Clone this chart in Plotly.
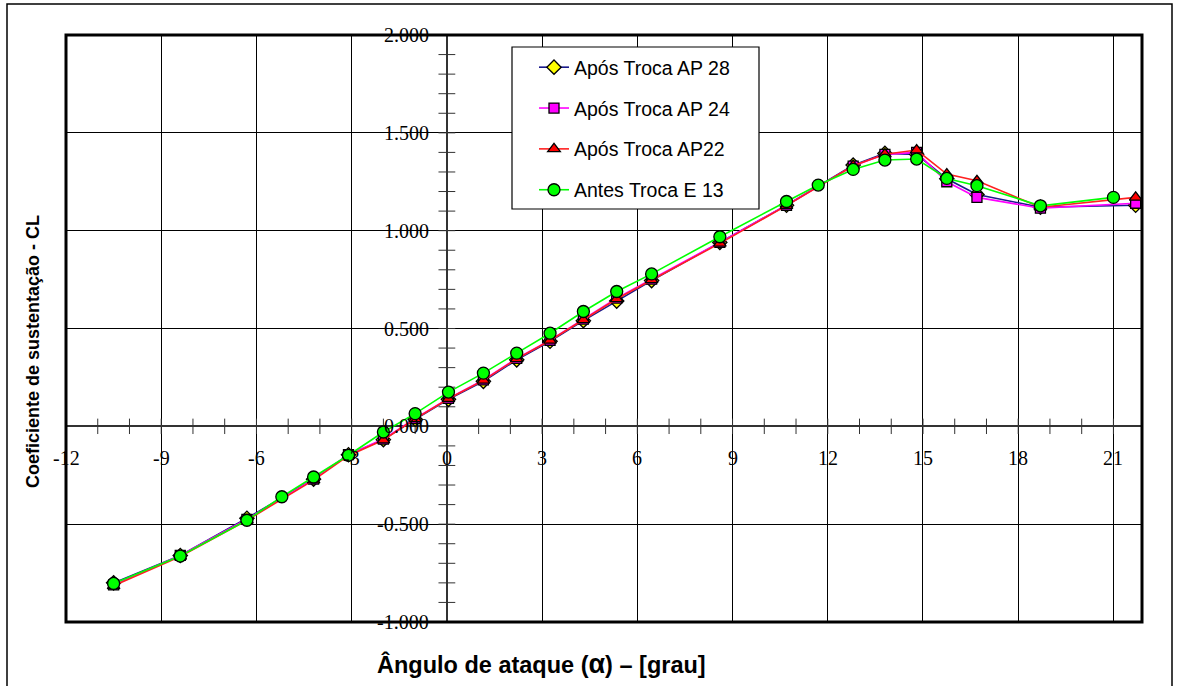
import plotly.graph_objects as go
import numpy as np

# ---------------- data ----------------
alpha_ap = [-10.5, -8.4, -6.3, -4.2, -3.1, -2.0, -1.0, 0.05, 1.15, 2.2, 3.25, 4.3, 5.35, 6.45,
            8.6, 10.7, 12.8, 13.8, 14.8, 15.75, 16.7, 18.7, 21.7]
cl_ap28 = [-0.80, -0.66, -0.47, -0.27, -0.145, -0.068, 0.036, 0.138, 0.23, 0.34, 0.435, 0.54, 0.64, 0.745,
           0.94, 1.13, 1.335, 1.395, 1.39, 1.265, 1.185, 1.12, 1.13]
cl_ap24 = [-0.81, -0.66, -0.475, -0.27, -0.145, -0.065, 0.04, 0.143, 0.237, 0.347, 0.44, 0.548, 0.655, 0.752,
           0.94, 1.13, 1.33, 1.39, 1.40, 1.25, 1.17, 1.115, 1.14]
cl_ap22 = [-0.815, -0.665, -0.48, -0.275, -0.15, -0.07, 0.038, 0.141, 0.235, 0.345, 0.439, 0.544, 0.651, 0.748,
           0.935, 1.128, 1.332, 1.391, 1.412, 1.289, 1.255, 1.12, 1.17]
alpha_e13 = [-10.5, -8.4, -6.3, -5.2, -4.2, -3.1, -2.0, -1.0, 0.05, 1.15, 2.2, 3.25, 4.3, 5.35, 6.45,
             8.6, 10.7, 11.7, 12.8, 13.8, 14.8, 15.75, 16.7, 18.7, 21.0]
cl_e13 = [-0.803, -0.663, -0.48, -0.36, -0.259, -0.148, -0.029, 0.065, 0.175, 0.272, 0.374, 0.476, 0.587, 0.689,
          0.779, 0.969, 1.149, 1.233, 1.313, 1.361, 1.366, 1.267, 1.23, 1.127, 1.17]

series_names = ["Após Troca AP 28", "Após Troca AP 24", "Após Troca AP22", "Antes Troca E 13"]

x_ticks = [-12, -9, -6, -3, 0, 3, 6, 9, 12, 15, 18, 21]
y_ticks = [-1.0, -0.5, 0.0, 0.5, 1.0, 1.5, 2.0]
x_minor = list(range(-11, 22))
y_minor = [round(v, 1) for v in np.arange(-1.0, 2.0001, 0.1)]

x_range = [-12, 21.9]
y_range = [-1.0, 2.0]

TXT = "Liberation Sans, Arial, sans-serif"
SERIF = "Liberation Serif, Times New Roman, serif"

fig = go.Figure()

# cross-shaped minor ticks along the zero lines
fig.add_trace(go.Scatter(x=x_minor, y=[0] * len(x_minor), mode="markers",
                         marker=dict(symbol="line-ns-open", size=11, color="#333",
                                     line=dict(color="#333", width=1)),
                         showlegend=False, hoverinfo="skip"))
fig.add_trace(go.Scatter(x=[0] * len(y_minor), y=y_minor, mode="markers",
                         marker=dict(symbol="line-ew-open", size=12, color="#333",
                                     line=dict(color="#333", width=1)),
                         showlegend=False, hoverinfo="skip"))

styles = [
    (alpha_ap, cl_ap28, "#1a1a8c", "diamond", "#ffff00", 11),
    (alpha_ap, cl_ap24, "#ff00ff", "square", "#ff00ff", 10),
    (alpha_ap, cl_ap22, "#ff2020", "triangle-up", "#ff0000", 11),
    (alpha_e13, cl_e13, "#00ff00", "circle", "#00ff00", 12),
]
for i, (xs, ys, lc, sym, fc, sz) in enumerate(styles):
    fig.add_trace(go.Scatter(
        x=xs, y=ys, mode="lines+markers", name=series_names[i], legendgroup=f"g{i}",
        line=dict(color=lc, width=1.6),
        marker=dict(symbol=sym, size=sz, color=fc, line=dict(color="black", width=1.3)),
    ))

# tick labels placed on the zero lines
for v in x_ticks:
    fig.add_annotation(x=v, y=0, xref="x", yref="y", text=f"{v}", showarrow=False,
                       yshift=-32, xanchor="center", yanchor="middle",
                       font=dict(family=SERIF, size=20, color="black"))
for v in y_ticks:
    fig.add_annotation(x=0, y=v, xref="x", yref="y", text=f"{v:.3f}", showarrow=False,
                       xshift=-16, xanchor="right", yanchor="middle",
                       font=dict(family=SERIF, size=20, color="black"))

# axis titles
fig.add_annotation(x=(541 - 66) / 1076, y=(622 - 664) / 587, xref="paper", yref="paper",
                   text="<b>Ângulo de ataque (<span style='font-size:27px'>α</span>) – [grau]</b>",
                   showarrow=False, xanchor="center", yanchor="middle",
                   font=dict(family=TXT, size=23.5, color="black"))
fig.add_annotation(x=(33 - 66) / 1076, y=(622 - 352) / 587, xref="paper", yref="paper",
                   text="<b>Coeficiente de sustentação - CL</b>", showarrow=False, textangle=-90,
                   xanchor="center", yanchor="middle", font=dict(family=TXT, size=18, color="black"))

# frames
fig.add_shape(type="rect", xref="paper", yref="paper", x0=0, x1=1, y0=0, y1=1,
              line=dict(color="black", width=3), layer="above")
fig.add_shape(type="rect", xref="paper", yref="paper",
              x0=(7 - 66) / 1076, x1=(1172 - 66) / 1076, y0=(622 - 690) / 587, y1=(622 - 4) / 587,
              line=dict(color="black", width=1.5))
# legend box
fig.add_shape(type="rect", xref="paper", yref="paper",
              x0=(512 - 66) / 1076, x1=(759 - 66) / 1076, y0=(622 - 209) / 587, y1=(622 - 47) / 587,
              line=dict(color="black", width=1.2), fillcolor="white", layer="above")

fig.update_layout(
    width=1178, height=686,
    margin=dict(l=66, r=36, t=35, b=64),
    paper_bgcolor="white", plot_bgcolor="white",
    showlegend=True,
    legend=dict(x=(534 - 66) / 1076, y=(622 - 48) / 587, xanchor="left", yanchor="top",
                bgcolor="rgba(0,0,0,0)", borderwidth=0, tracegroupgap=12.5,
                font=dict(family=TXT, size=19.5, color="black")),
    xaxis=dict(range=x_range, tickvals=x_ticks, showticklabels=False, ticks="",
               showgrid=True, gridcolor="black", gridwidth=1,
               zeroline=True, zerolinecolor="#333", zerolinewidth=1.5,
               showline=False, fixedrange=True),
    yaxis=dict(range=y_range, tickvals=y_ticks, showticklabels=False, ticks="",
               showgrid=True, gridcolor="black", gridwidth=1,
               zeroline=True, zerolinecolor="#333", zerolinewidth=1.5,
               showline=False, fixedrange=True),
)

fig.write_html("out.html")
